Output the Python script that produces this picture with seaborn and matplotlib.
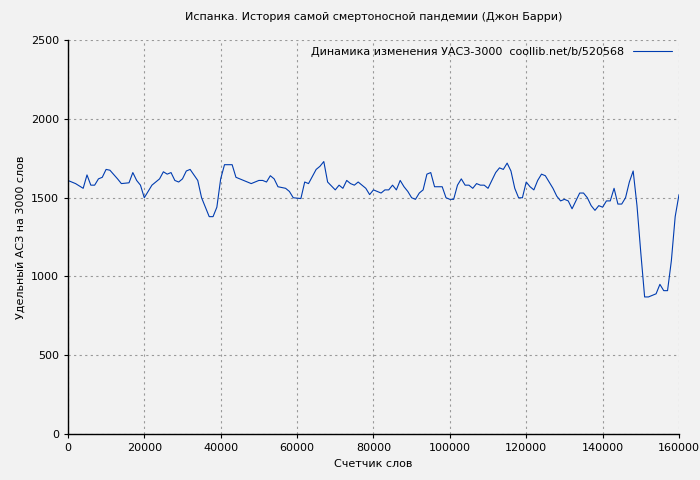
import matplotlib
matplotlib.use("Agg")
import matplotlib.pyplot as plt
import seaborn as sns
import pandas as pd

x_k = [0,2,3,4,5,6,7,8,9,10,11,13,14,16,17,18,19,20,22,24,25,26,27,28,29,30,31,32,34,35,36,37,38,39,40,41,43,44,46,48,50,51,52,53,54,55,57,58,59,61,62,63,65,66,67,68,70,71,72,73,74,75,76,78,79,80,81,82,83,84,85,86,87,88,89,90,91,92,93,94,95,96,98,99,100,101,102,103,104,105,106,107,108,109,110,111,112,113,114,115,116,117,118,119,120,121,122,123,124,125,126,127,128,129,130,131,132,133,134,135,136,137,138,139,140,141,142,143,144,145,146,147,148,149,150,151,152,153,154,155,156,157,158,159,160]
values = [1610,1590,1575,1560,1645,1580,1580,1620,1630,1680,1675,1620,1590,1595,1660,1610,1580,1500,1580,1620,1665,1650,1660,1610,1600,1620,1670,1680,1610,1500,1440,1380,1380,1440,1620,1710,1710,1630,1610,1590,1610,1610,1600,1640,1620,1570,1560,1540,1500,1495,1600,1590,1680,1700,1730,1600,1550,1580,1560,1610,1590,1580,1600,1560,1520,1550,1540,1530,1550,1550,1580,1550,1610,1570,1540,1500,1490,1530,1550,1650,1660,1570,1570,1500,1490,1490,1580,1620,1580,1580,1560,1590,1580,1580,1560,1610,1660,1690,1680,1720,1670,1560,1500,1500,1600,1570,1550,1610,1650,1640,1600,1560,1510,1480,1490,1480,1430,1480,1530,1530,1500,1450,1420,1450,1440,1480,1480,1560,1460,1460,1500,1600,1670,1450,1150,870,870,880,890,950,910,910,1100,1380,1520]
label = "Динамика изменения УАСЗ-3000  coollib.net/b/520568"

df = pd.DataFrame({"x": [v * 1000 for v in x_k], "y": values})

sns.set_style("whitegrid")
plt.rcParams["font.family"] = ["DejaVu Sans"]
fig = plt.figure(figsize=(7, 4.8), dpi=100, facecolor="#f2f2f2")
ax = fig.add_axes([0.097, 0.096, 0.873, 0.82])
ax.set_facecolor("#f2f2f2")
sns.lineplot(data=df, x="x", y="y", ax=ax, color="#003cb0", linewidth=0.8, label=label)
ax.set_xlim(0, 160000)
ax.set_ylim(0, 2500)
ax.set_xticks(range(0, 160001, 20000))
ax.set_yticks(range(0, 2501, 500))
ax.tick_params(labelsize=8, length=3, color="black", labelcolor="black", left=True, bottom=True)
ax.grid(True, color="#999999", linestyle=(0, (2, 3)), linewidth=0.8)
for s in ["left", "bottom"]:
    ax.spines[s].set_color("black")
    ax.spines[s].set_linewidth(1)
for s in ["top", "right"]:
    ax.spines[s].set_visible(False)
ax.set_xlabel("Счетчик слов", fontsize=8, color="black")
ax.set_ylabel("Удельный АСЗ на 3000 слов", fontsize=8, color="black")
ax.set_title("Испанка. История самой смертоносной пандемии (Джон Барри)", fontsize=8, pad=15, color="black")
leg = ax.legend(loc="upper right", fontsize=8, frameon=False, markerfirst=False, handlelength=3.5, borderaxespad=0.2)
for t in leg.get_texts():
    t.set_color("black")
fig.savefig("out.png", dpi=100, facecolor="#f2f2f2")
